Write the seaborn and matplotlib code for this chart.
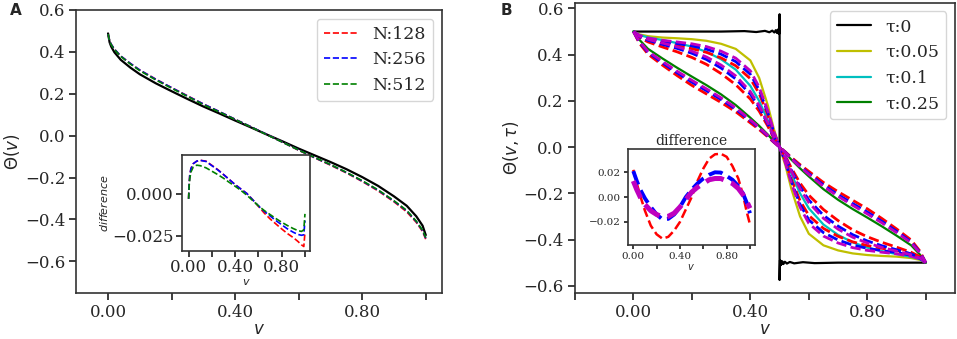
import numpy as np
import pandas as pd
import seaborn as sns
import matplotlib
matplotlib.use("Agg")
import matplotlib.pyplot as plt

# ---------------- panel A data ----------------
v_a = [0.0, 0.005, 0.01, 0.02, 0.04, 0.07, 0.1, 0.15, 0.2, 0.25, 0.3, 0.35, 0.4, 0.45,
       0.5, 0.55, 0.6, 0.65, 0.7, 0.75, 0.8, 0.85, 0.9, 0.94, 0.97, 0.99, 1.0]
theta_exact = [0.488, 0.445, 0.425, 0.398, 0.362, 0.325, 0.293, 0.250, 0.212, 0.175, 0.139,
               0.106, 0.072, 0.039, 0.005, -0.028, -0.062, -0.094, -0.126, -0.160, -0.198,
               -0.240, -0.290, -0.335, -0.385, -0.430, -0.475]
theta_128 = [0.485, 0.451, 0.436, 0.413, 0.380, 0.345, 0.313, 0.270, 0.229, 0.190, 0.151,
             0.115, 0.078, 0.042, 0.005, -0.032, -0.070, -0.106, -0.141, -0.178, -0.219,
             -0.264, -0.316, -0.364, -0.414, -0.458, -0.495]
theta_256 = [0.485, 0.451, 0.436, 0.413, 0.380, 0.345, 0.313, 0.269, 0.229, 0.189, 0.151,
             0.115, 0.078, 0.042, 0.005, -0.032, -0.069, -0.105, -0.139, -0.176, -0.217,
             -0.261, -0.313, -0.359, -0.410, -0.454, -0.490]
theta_512 = [0.485, 0.450, 0.434, 0.411, 0.378, 0.342, 0.310, 0.266, 0.226, 0.187, 0.148,
             0.113, 0.077, 0.041, 0.004, -0.032, -0.069, -0.104, -0.138, -0.175, -0.215,
             -0.259, -0.311, -0.357, -0.408, -0.452, -0.487]

diff_128 = [-0.003, 0.006, 0.011, 0.015, 0.018, 0.0195, 0.020, 0.0195, 0.017, 0.0145, 0.0115,
            0.0085, 0.0055, 0.0028, 0.0002, -0.0035, -0.0075, -0.0115, -0.0150, -0.0180,
            -0.0210, -0.0238, -0.0262, -0.0285, -0.0305, -0.0315, -0.0230]
diff_256 = [-0.003, 0.006, 0.011, 0.015, 0.018, 0.0195, 0.020, 0.0193, 0.0168, 0.0143, 0.0115,
            0.0085, 0.0055, 0.0028, 0.0002, -0.0035, -0.0072, -0.0105, -0.0132, -0.0160,
            -0.0185, -0.0210, -0.0230, -0.0243, -0.0248, -0.0245, -0.0160]
diff_512 = [-0.003, 0.005, 0.009, 0.013, 0.016, 0.0171, 0.0168, 0.0155, 0.0135, 0.0115, 0.0093,
            0.0068, 0.0045, 0.0020, -0.0008, -0.0040, -0.0072, -0.0100, -0.0124, -0.0148,
            -0.0170, -0.0190, -0.0208, -0.0220, -0.0225, -0.0215, -0.0120]

# ---------------- panel B data ----------------
v_step = [0.0, 0.2, 0.3, 0.38, 0.42, 0.45, 0.465, 0.475, 0.482, 0.487, 0.491, 0.494, 0.496,
          0.4975, 0.4985, 0.4993, 0.5, 0.5, 0.5007, 0.5015, 0.5025, 0.504, 0.506, 0.509,
          0.513, 0.518, 0.525, 0.535, 0.55, 0.58, 0.62, 0.7, 0.8, 1.0]
theta_tau0 = [0.5, 0.5, 0.5, 0.502, 0.498, 0.503, 0.497, 0.504, 0.496, 0.506, 0.494, 0.508,
              0.492, 0.512, 0.49, 0.53, 0.575, -0.575, -0.53, -0.49, -0.512, -0.492, -0.508,
              -0.494, -0.506, -0.496, -0.504, -0.497, -0.503, -0.498, -0.502, -0.5, -0.5, -0.5]

v_b = [0.0, 0.02, 0.05, 0.1, 0.15, 0.2, 0.25, 0.3, 0.35, 0.4, 0.43, 0.46, 0.48, 0.5,
       0.52, 0.54, 0.57, 0.6, 0.65, 0.7, 0.75, 0.8, 0.85, 0.9, 0.95, 0.98, 1.0]
theta_005 = [0.500, 0.488, 0.480, 0.474, 0.471, 0.467, 0.460, 0.447, 0.425, 0.375, 0.300, 0.180,
             0.080, 0.0, -0.080, -0.180, -0.300, -0.375, -0.425, -0.447, -0.460, -0.467,
             -0.471, -0.474, -0.480, -0.488, -0.500]
theta_005_m = [0.500, 0.484, 0.472, 0.462, 0.455, 0.447, 0.435, 0.415, 0.385, 0.330, 0.260,
               0.155, 0.068, 0.0, -0.068, -0.155, -0.260, -0.330, -0.385, -0.415, -0.435,
               -0.447, -0.455, -0.462, -0.472, -0.484, -0.500]
theta_005_b = [0.500, 0.482, 0.468, 0.456, 0.448, 0.438, 0.424, 0.402, 0.370, 0.315, 0.248,
               0.148, 0.064, 0.0, -0.064, -0.148, -0.248, -0.315, -0.370, -0.402, -0.424,
               -0.438, -0.448, -0.456, -0.468, -0.482, -0.500]
theta_005_r = [0.500, 0.478, 0.462, 0.448, 0.438, 0.426, 0.410, 0.386, 0.352, 0.296, 0.232,
               0.138, 0.060, 0.0, -0.060, -0.138, -0.232, -0.296, -0.352, -0.386, -0.410,
               -0.426, -0.438, -0.448, -0.462, -0.478, -0.500]
theta_01 = [0.500, 0.485, 0.475, 0.463, 0.450, 0.435, 0.412, 0.380, 0.335, 0.265, 0.200, 0.115,
            0.050, 0.0, -0.050, -0.115, -0.200, -0.265, -0.335, -0.380, -0.412, -0.435,
            -0.450, -0.463, -0.475, -0.485, -0.500]
theta_01_m = [0.500, 0.480, 0.466, 0.450, 0.434, 0.415, 0.390, 0.355, 0.308, 0.240, 0.180,
              0.104, 0.045, 0.0, -0.045, -0.104, -0.180, -0.240, -0.308, -0.355, -0.390,
              -0.415, -0.434, -0.450, -0.466, -0.480, -0.500]
theta_01_b = [0.500, 0.478, 0.462, 0.444, 0.427, 0.406, 0.379, 0.342, 0.295, 0.229, 0.172,
              0.099, 0.043, 0.0, -0.043, -0.099, -0.172, -0.229, -0.295, -0.342, -0.379,
              -0.406, -0.427, -0.444, -0.462, -0.478, -0.500]
theta_01_r = [0.500, 0.474, 0.455, 0.433, 0.412, 0.388, 0.358, 0.318, 0.270, 0.208, 0.156,
              0.090, 0.039, 0.0, -0.039, -0.090, -0.156, -0.208, -0.270, -0.318, -0.358,
              -0.388, -0.412, -0.433, -0.455, -0.474, -0.500]
theta_025 = [0.500, 0.465, 0.425, 0.383, 0.343, 0.305, 0.268, 0.228, 0.182, 0.127, 0.092, 0.054,
             0.026, 0.0, -0.026, -0.054, -0.092, -0.127, -0.182, -0.228, -0.268, -0.305,
             -0.343, -0.383, -0.425, -0.465, -0.500]
theta_025_m = [0.500, 0.458, 0.414, 0.370, 0.328, 0.289, 0.252, 0.213, 0.170, 0.118, 0.085,
               0.050, 0.024, 0.0, -0.024, -0.050, -0.085, -0.118, -0.170, -0.213, -0.252,
               -0.289, -0.328, -0.370, -0.414, -0.458, -0.500]
theta_025_b = [0.500, 0.455, 0.410, 0.364, 0.321, 0.281, 0.244, 0.206, 0.164, 0.114, 0.082,
               0.048, 0.023, 0.0, -0.023, -0.048, -0.082, -0.114, -0.164, -0.206, -0.244,
               -0.281, -0.321, -0.364, -0.410, -0.455, -0.500]
theta_025_r = [0.500, 0.450, 0.402, 0.354, 0.309, 0.267, 0.230, 0.193, 0.153, 0.105, 0.076,
               0.044, 0.021, 0.0, -0.021, -0.044, -0.076, -0.105, -0.153, -0.193, -0.230,
               -0.267, -0.309, -0.354, -0.402, -0.450, -0.500]

v_diff_b = [0.0, 0.03, 0.06, 0.1, 0.15, 0.2, 0.25, 0.3, 0.35, 0.4, 0.45, 0.5, 0.55, 0.6,
            0.65, 0.7, 0.75, 0.8, 0.85, 0.9, 0.94, 0.97, 1.0]
diff_b_red = [0.022, 0.011, 0.001, -0.011, -0.023, -0.030, -0.0335, -0.032, -0.027, -0.020,
              -0.010, 0.000, 0.013, 0.023, 0.031, 0.0345, 0.035, 0.0325, 0.025, 0.015, 0.002,
              -0.011, -0.022]
diff_b_blue = [0.021, 0.013, 0.006, -0.001, -0.008, -0.014, -0.018, -0.0175, -0.014, -0.008,
               0.000, 0.006, 0.011, 0.015, 0.018, 0.020, 0.0198, 0.017, 0.014, 0.009, 0.003,
               -0.004, -0.013]
diff_b_mag = [0.013, 0.006, 0.000, -0.006, -0.011, -0.014, -0.016, -0.0155, -0.013, -0.008,
              -0.002, 0.004, 0.008, 0.011, 0.014, 0.015, 0.015, 0.013, 0.011, 0.007, 0.002,
              -0.003, -0.009]

# matplotlib classic single-letter colours (seaborn remaps 'y', 'c', 'g', 'm')
RED, BLUE, GREEN = "#ff0000", "#0000ff", "#008000"
YELLOW, CYAN, MAGENTA = "#bfbf00", "#00bfbf", "#bf00bf"

sns.set_theme(style="ticks")
plt.rcParams['font.family'] = ['DejaVu Serif']
plt.rcParams['mathtext.fontset'] = 'dejavusans'
plt.rcParams['axes.edgecolor'] = '#333333'
plt.rcParams['axes.linewidth'] = 1.2

fig = plt.figure(figsize=(9.57, 3.39), dpi=100)
ax_a = fig.add_axes([0.0797, 0.1366, 0.3818, 0.834])
ax_b = fig.add_axes([0.6008, 0.1366, 0.3971, 0.8555])
in_a = fig.add_axes([0.1905, 0.2605, 0.1334, 0.2814])
in_b = fig.add_axes([0.6559, 0.2773, 0.1330, 0.2832])

def line(ax, x, y, **kw):
    sns.lineplot(x=x, y=y, ax=ax, estimator=None, sort=False, **kw)

# Panel A
line(ax_a, v_a, theta_exact, color="black", lw=1.6)
line(ax_a, v_a, theta_128, color=RED, lw=1.2, linestyle="--", label="N:128")
line(ax_a, v_a, theta_256, color=BLUE, lw=1.2, linestyle="--", label="N:256")
line(ax_a, v_a, theta_512, color=GREEN, lw=1.2, linestyle="--", label="N:512")
ax_a.set_xlim(-0.1, 1.05)
ax_a.set_ylim(-0.75, 0.6)
ax_a.set_yticks([-0.6, -0.4, -0.2, 0.0, 0.2, 0.4, 0.6])
ax_a.set_yticklabels(["\u22120.6", "\u22120.4", "\u22120.2", "0.0", "0.2", "0.4", "0.6"])
ax_a.set_xticks([0, 0.2, 0.4, 0.6, 0.8, 1.0])
ax_a.set_xticklabels(["0.00", "", "0.40", "", "0.80", ""])
ax_a.set_xlabel("$v$", fontsize=12, labelpad=0)
ax_a.set_ylabel(r"$\Theta(v)$", fontsize=12, labelpad=2)
ax_a.legend(loc="upper right", fontsize=12.5, handlelength=2.0)

line(in_a, v_a, diff_128, color=RED, lw=1.2, linestyle="--")
line(in_a, v_a, diff_256, color=BLUE, lw=1.2, linestyle="--")
line(in_a, v_a, diff_512, color=GREEN, lw=1.2, linestyle="--")
in_a.set_xlim(-0.054, 1.043)
in_a.set_ylim(-0.034, 0.023)
in_a.set_yticks([-0.025, 0.0])
in_a.set_yticklabels(["\u22120.025", "0.000"])
in_a.set_xticks([0, 0.2, 0.4, 0.6, 0.8, 1.0])
in_a.set_xticklabels(["0.00", "", "0.40", "", "0.80", ""])
in_a.set_xlabel("$v$", fontsize=8, labelpad=1)
in_a.set_ylabel("$difference$", fontsize=8, labelpad=2)
in_a.tick_params(labelsize=12, length=4, pad=2)

# Panel B
line(ax_b, v_step, theta_tau0, color="black", lw=1.6, label="\u03c4:0")
line(ax_b, v_b, theta_005, color=YELLOW, lw=1.6, label="\u03c4:0.05")
line(ax_b, v_b, theta_01, color=CYAN, lw=1.6, label="\u03c4:0.1")
line(ax_b, v_b, theta_025, color=GREEN, lw=1.6, label="\u03c4:0.25")
for ys in [(theta_005_r, theta_005_b, theta_005_m),
           (theta_01_r, theta_01_b, theta_01_m),
           (theta_025_r, theta_025_b, theta_025_m)]:
    line(ax_b, v_b, ys[0], color=RED, lw=2.0, linestyle="--")
    line(ax_b, v_b, ys[1], color=BLUE, lw=2.0, linestyle="--")
    line(ax_b, v_b, ys[2], color=MAGENTA, lw=2.0, linestyle="--")
ax_b.set_xlim(-0.2, 1.1)
ax_b.set_ylim(-0.63, 0.625)
ax_b.set_yticks([-0.6, -0.4, -0.2, 0.0, 0.2, 0.4, 0.6])
ax_b.set_yticklabels(["\u22120.6", "\u22120.4", "\u22120.2", "0.0", "0.2", "0.4", "0.6"])
ax_b.set_xticks([-0.2, 0, 0.2, 0.4, 0.6, 0.8, 1.0])
ax_b.set_xticklabels(["", "0.00", "", "0.40", "", "0.80", ""])
ax_b.set_xlabel("$v$", fontsize=12, labelpad=0)
ax_b.set_ylabel(r"$\Theta(v,\tau)$", fontsize=12, labelpad=2)
ax_b.legend(loc="upper right", fontsize=12.5, handlelength=2.0)

line(in_b, v_diff_b, diff_b_red, color=RED, lw=1.8, linestyle="--")
line(in_b, v_diff_b, diff_b_blue, color=BLUE, lw=2.8, linestyle="--")
line(in_b, v_diff_b, diff_b_mag, color=MAGENTA, lw=3.6, linestyle="--")
in_b.set_xlim(-0.048, 1.043)
in_b.set_ylim(-0.0386, 0.0388)
in_b.set_yticks([-0.02, 0.0, 0.02])
in_b.set_yticklabels(["\u22120.02", "0.00", "0.02"])
in_b.set_xticks([0, 0.2, 0.4, 0.6, 0.8, 1.0])
in_b.set_xticklabels(["0.00", "", "0.40", "", "0.80", ""])
in_b.set_xlabel("$v$", fontsize=7, labelpad=1)
in_b.set_title("difference", fontsize=10, pad=3)
in_b.tick_params(labelsize=7.5, length=3, pad=2)

for ax in (ax_a, ax_b):
    ax.tick_params(labelsize=12, length=5, pad=3)

fig.text(0.010, 0.955, "A", fontsize=11, fontweight="bold", family="DejaVu Sans")
fig.text(0.523, 0.955, "B", fontsize=11, fontweight="bold", family="DejaVu Sans")

fig.savefig("out.png", dpi=100)
